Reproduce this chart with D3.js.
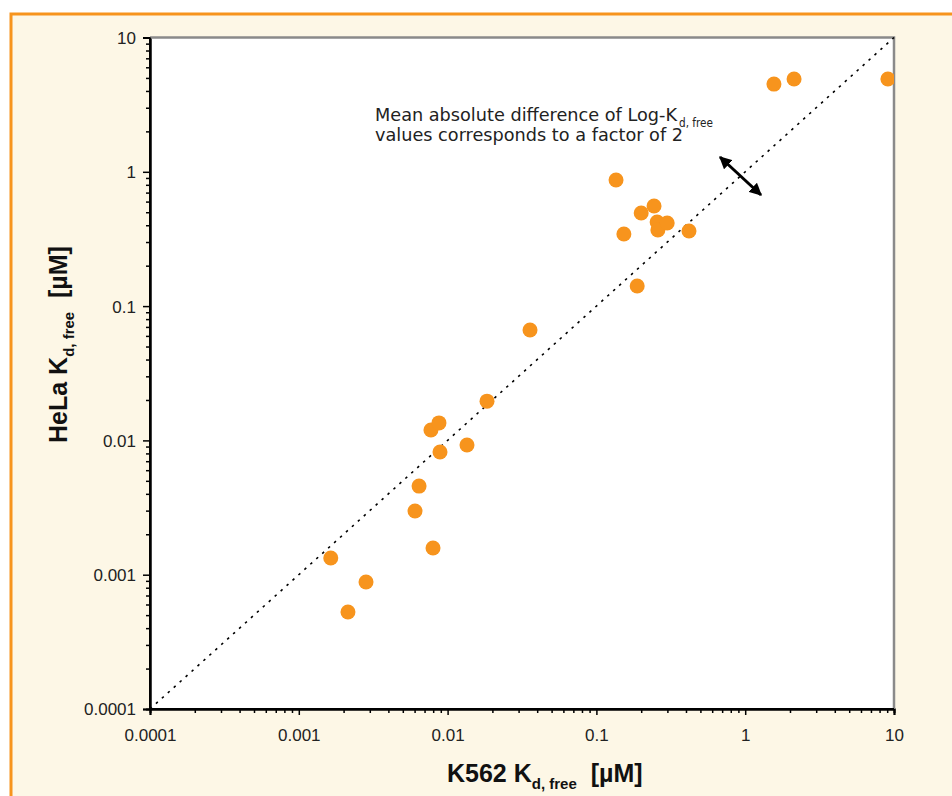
<!DOCTYPE html>
<html><head><meta charset="utf-8">
<script src="https://cdn.jsdelivr.net/npm/d3@7"></script>
<style>body{margin:0;background:#fff}svg{display:block}text{white-space:pre}</style>
</head><body>
<script>
// Data: K562 Kd,free (x) vs HeLa Kd,free (y), µM
const k562 = [0.00164,0.00214,0.00283,0.00604,0.00643,0.00798,0.00773,0.00875,0.00889,0.0135,0.0184,0.0358,0.1355,0.153,0.188,0.2,0.244,0.256,0.259,0.299,0.419,1.56,2.13,9.1];
const hela = [0.00133,0.000527,0.000883,0.00298,0.00457,0.00158,0.01195,0.0135,0.0082,0.00924,0.0196,0.0664,0.869,0.344,0.141,0.493,0.556,0.423,0.369,0.416,0.362,4.5,4.91,4.91];
const majorTicks = [0.0001,0.001,0.01,0.1,1,10];
const tickLabels = ["0.0001","0.001","0.01","0.1","1","10"];

const W=952,H=796;
const svg=d3.select("body").append("svg").attr("width",W).attr("height",H);
svg.append("rect").attr("width",W).attr("height",H).attr("fill","#fff");
svg.append("rect").attr("x",11).attr("y",14).attr("width",W+20).attr("height",H+20)
  .attr("fill","#FDF7E6").attr("stroke","#F7941D").attr("stroke-width",3);

const L=150,R=894,T=37.5,B=709;
const x=d3.scaleLog().domain([0.0001,10]).range([L,R]);
const y=d3.scaleLog().domain([0.0001,10]).range([B,T]);

svg.append("rect").attr("x",L).attr("y",T).attr("width",R-L).attr("height",B-T).attr("fill","#fff");

// minor ticks
const minor=[];
majorTicks.slice(0,-1).forEach(m=>{for(let k=2;k<=9;k++)minor.push(m*k);});

const font="'Liberation Sans', Arial, sans-serif";
const gx=svg.append("g").attr("transform",`translate(0,${B})`);
gx.call(d3.axisBottom(x).tickValues(minor).tickSize(4).tickFormat(""));
const gx2=svg.append("g").attr("transform",`translate(0,${B})`);
gx2.call(d3.axisBottom(x).tickValues(majorTicks).tickSize(6).tickPadding(14).tickFormat((d,i)=>tickLabels[i]));
const gy=svg.append("g").attr("transform",`translate(${L},0)`);
gy.call(d3.axisLeft(y).tickValues(minor).tickSize(4).tickFormat(""));
const gy2=svg.append("g").attr("transform",`translate(${L},0)`);
gy2.call(d3.axisLeft(y).tickValues(majorTicks).tickSize(7).tickPadding(7).tickFormat((d,i)=>tickLabels[i]));
[gx,gx2,gy,gy2].forEach(g=>{
  g.attr("font-size",null).attr("font-family",null);
  g.selectAll("path.domain").attr("stroke","#000").attr("stroke-width",2);
  g.selectAll("line").attr("stroke","#000").attr("stroke-width",1.5);
  g.selectAll("text").attr("font-family",font).attr("font-size",17).attr("fill","#222");
});
gy2.selectAll("text").attr("dy","0.35em");

// top/right gray border
svg.append("path").attr("d",`M${L},${T}H${R}V${B}`).attr("fill","none").attr("stroke","#8a8a8a").attr("stroke-width",2.5);
// redraw left/bottom axis lines
svg.append("path").attr("d",`M${L},${T}V${B}H${R}`).attr("fill","none").attr("stroke","#000").attr("stroke-width",2);

// diagonal dotted line
svg.append("line").attr("x1",x(0.0001)).attr("y1",y(0.0001)).attr("x2",x(10)).attr("y2",y(10))
  .attr("stroke","#000").attr("stroke-width",1.6).attr("stroke-dasharray","2.5,5.5");

// points
svg.append("clipPath").attr("id","pc").append("rect").attr("x",L).attr("y",T-10).attr("width",R-L).attr("height",B-T+10);
svg.append("g").attr("clip-path","url(#pc)").selectAll("circle").data(k562).join("circle")
  .attr("cx",d=>x(d)).attr("cy",(d,i)=>y(hela[i])).attr("r",7.5).attr("fill","#F7941D");

// arrow
const defs=svg.append("defs");
defs.append("marker").attr("id","ah").attr("viewBox","0 0 10 10").attr("refX",9).attr("refY",5)
  .attr("markerWidth",4.2).attr("markerHeight",4.2).attr("orient","auto-start-reverse")
  .append("path").attr("d","M0,0L10,5L0,10z").attr("fill","#000");
svg.append("line").attr("x1",720).attr("y1",157).attr("x2",761).attr("y2",195)
  .attr("stroke","#000").attr("stroke-width",3).attr("marker-start","url(#ah)").attr("marker-end","url(#ah)");

// annotation
const af="'DejaVu Sans', Verdana, sans-serif";
const t1=svg.append("text").attr("x",375).attr("y",121).attr("font-family",af).attr("font-size",16.8).attr("fill","#222");
t1.append("tspan").attr("textLength",302).attr("lengthAdjust","spacingAndGlyphs").text("Mean absolute difference of Log-K");
t1.append("tspan").attr("x",679).attr("dy",6).attr("font-size",11.5).attr("textLength",34).attr("lengthAdjust","spacingAndGlyphs").text("d, free");
svg.append("text").attr("x",375).attr("y",141).attr("font-family",af).attr("font-size",16.8).attr("fill","#222")
  .attr("textLength",308).attr("lengthAdjust","spacingAndGlyphs")
  .text("values corresponds to a factor of 2");

// axis titles
const xt=svg.append("text").attr("x",447).attr("y",782)
  .attr("font-family",font).attr("font-weight","bold").attr("font-size",25).attr("fill","#111");
xt.append("tspan").text("K562 K");
xt.append("tspan").attr("dy",7).attr("font-size",15).text("d, free");
xt.append("tspan").attr("dy",-7).text("  [µM]");
const yt=svg.append("text").attr("transform","translate(67,443) rotate(-90)")
  .attr("font-family",font).attr("font-weight","bold").attr("font-size",25).attr("fill","#111");
yt.append("tspan").text("HeLa K");
yt.append("tspan").attr("dy",7).attr("font-size",15).text("d, free");
yt.append("tspan").attr("dy",-7).text("  [µM]");
</script>
</body></html>
